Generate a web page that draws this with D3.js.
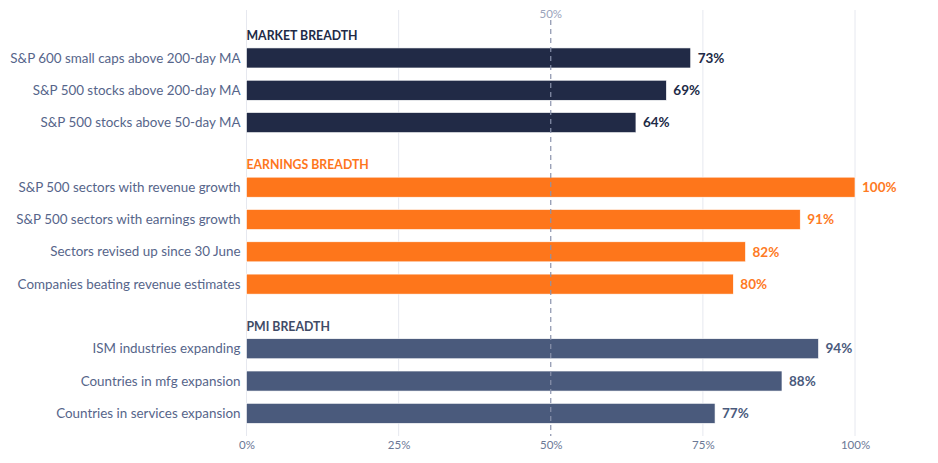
<!DOCTYPE html>
<html><head><meta charset="utf-8">
<script src="https://cdn.jsdelivr.net/npm/d3@7"></script>
<style>body{margin:0;background:#fff}svg{display:block}</style>
</head><body>
<svg id="c" width="938" height="463"></svg>
<script>
const groups = ["MARKET BREADTH", "EARNINGS BREADTH", "PMI BREADTH"];
const groupColors = ["#212a46", "#fe761b", "#4a5a7c"];
const labelColorsForValues = ["#212a46", "#fe7a24", "#4a5a7c"];
const marketLabels = ["S&P 600 small caps above 200-day MA", "S&P 500 stocks above 200-day MA", "S&P 500 stocks above 50-day MA"];
const marketValues = [73, 69, 64];
const earningsLabels = ["S&P 500 sectors with revenue growth", "S&P 500 sectors with earnings growth", "Sectors revised up since 30 June", "Companies beating revenue estimates"];
const earningsValues = [100, 91, 82, 80];
const pmiLabels = ["ISM industries expanding", "Countries in mfg expansion", "Countries in services expansion"];
const pmiValues = [94, 88, 77];
const xTicks = [0, 25, 50, 75, 100];
const refValue = 50;

const groupData = [
  {name: groups[0], labels: marketLabels, values: marketValues},
  {name: groups[1], labels: earningsLabels, values: earningsValues},
  {name: groups[2], labels: pmiLabels, values: pmiValues}
];

const rows = [];
const bars = [];
const headers = [];
groupData.forEach((g, gi) => {
  const hk = "h" + gi;
  rows.push(hk);
  headers.push({key: hk, name: g.name, gi, first: g.labels[0]});
  g.labels.forEach((l, i) => {
    rows.push(l);
    bars.push({label: l, value: g.values[i], gi});
  });
});

const svg = d3.select("#c");
const font = "Lato, 'Open Sans', sans-serif";
const x = d3.scaleLinear().domain([0, 100]).range([246.5, 855]);
const y = d3.scaleBand().domain(rows).range([9.5, 429.5]).paddingInner(0.38).paddingOuter(0.19);

svg.append("g").selectAll("line").data(xTicks.filter(t => t !== refValue)).join("line")
  .attr("x1", d => x(d)).attr("x2", d => x(d))
  .attr("y1", 10).attr("y2", 436)
  .attr("stroke", "#e6e8ef").attr("stroke-width", 1);

svg.append("g").selectAll("rect").data(bars).join("rect")
  .attr("x", x(0)).attr("y", d => y(d.label))
  .attr("width", d => x(d.value) - x(0)).attr("height", y.bandwidth())
  .attr("fill", d => groupColors[d.gi])
  .attr("stroke", "#ffffff").attr("stroke-width", 0.6);

svg.append("line")
  .attr("x1", x(refValue)).attr("x2", x(refValue))
  .attr("y1", 20).attr("y2", 436)
  .attr("stroke", "#8a93ad").attr("stroke-width", 1.2).attr("stroke-dasharray", "5,4");
svg.append("text").attr("x", x(refValue)).attr("y", 18)
  .attr("text-anchor", "middle").attr("font-family", font).attr("font-size", 11.5)
  .attr("fill", "#9aa3bb").text(refValue + "%");

svg.append("g").selectAll("text").data(bars).join("text")
  .attr("x", x(0) - 6).attr("y", d => y(d.label) + y.bandwidth() / 2)
  .attr("dy", "0.35em").attr("text-anchor", "end")
  .attr("font-family", font).attr("font-size", 13.4).attr("fill", "#56658a")
  .text(d => d.label);

svg.append("g").selectAll("text").data(bars).join("text")
  .attr("x", d => x(d.value) + 7).attr("y", d => y(d.label) + y.bandwidth() / 2)
  .attr("dy", "0.35em")
  .attr("font-family", font).attr("font-size", 13.5).attr("font-weight", 700)
  .attr("fill", d => labelColorsForValues[d.gi])
  .text(d => d.value + "%");

svg.append("g").selectAll("text").data(headers).join("text")
  .attr("x", x(0)).attr("y", d => y(d.first) - 8)
  .attr("font-family", font).attr("font-size", 12.3).attr("font-weight", 700)
  .attr("fill", d => d.gi === 1 ? "#fe761b" : (d.gi === 0 ? "#212a46" : "#3f4b66"))
  .text(d => d.name);

const xAxis = d3.axisBottom(x).tickValues(xTicks).tickFormat(d => d + "%").tickSize(0).tickPadding(0);
const ax = svg.append("g").attr("transform", "translate(0,440)").call(xAxis);
ax.select(".domain").remove();
ax.selectAll("text").attr("font-family", font).attr("font-size", 11.5).attr("fill", "#6b7896").attr("dy", "0.75em");
</script>
</body></html>
